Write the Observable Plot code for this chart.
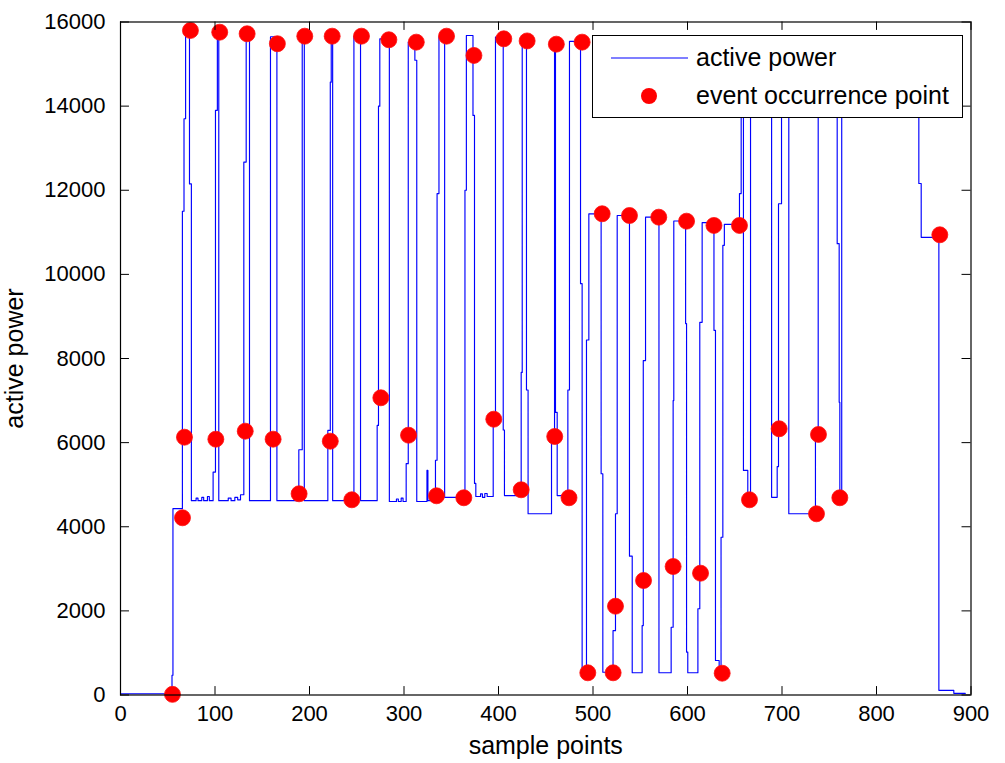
<!DOCTYPE html>
<html><head><meta charset="utf-8">
<script src="https://cdn.jsdelivr.net/npm/d3@7"></script>
<script src="https://cdn.jsdelivr.net/npm/@observablehq/plot@0.6"></script>
<style>
html,body{margin:0;padding:0;background:#fff;}
#wrap{position:relative;width:1005px;height:763px;font-family:"Liberation Sans",Arial,sans-serif;}
#legend{position:absolute;left:592px;top:35px;width:371px;height:83px;box-sizing:border-box;border:1px solid #000;background:#fff;}
#legend svg{position:absolute;left:0;top:0;}
</style></head><body><div id="wrap"></div>
<script>
// active power: level changes (sample point, value), drawn as a step line
const powerSteps = [
  [0,30],[54.5,470],[55.5,4430],[65.5,11500],[67.2,13700],[68.9,15850],[73,12150],[75,4620],
  [80,4680],[82,4620],[86,4700],[88,4620],[92,4720],[94,4620],
  [98,5300],[100.5,13900],[102.5,15780],[104,4620],
  [114,4680],[117,4620],[121,4700],[124,4640],[127,4760],
  [130.5,12670],[133,15700],[136.5,4620],
  [158.7,15650],[165.5,4620],
  [188.7,5830],[192.3,15680],[194.5,4620],
  [219.4,6290],[222,14570],[223,15680],[224.5,4620],
  [247,15660],[254,4620],
  [271.6,6410],[273,14000],[274.4,15600],[284.5,4600],
  [292,4660],[294,4600],[297,4680],[299,4600],
  [302.3,5500],[304.5,15520],[311.5,15090],[313.5,4600],
  [324.3,5340],[325.3,4620],
  [333.3,5580],[335,11920],[337,15640],[343,4700],
  [364.5,12000],[366,15680],[373,13780],[374.6,5030],[376,4720],
  [381,4780],[383,4700],[385.5,4790],[388,4720],
  [394.4,6700],[396.8,15640],[405,6300],[406.3,4740],
  [424,7670],[425.1,15600],[429.6,7250],[431.3,4310],
  [456.1,6140],[459.3,15500],[460.3,6720],[462.1,4740],
  [473.4,7250],[475.1,15540],[486.8,9780],[488.5,580],
  [493.1,8440],[495.6,11440],[508.6,5260],[510.4,540],
  [521.2,1530],[523.8,4310],[525.6,11400],[538.6,3300],[541.5,530],
  [552,1650],[553.2,7950],[555.6,11360],[569.8,530],
  [582.7,1610],[584.8,7000],[585.5,11270],[598,8830],[599,1020],[600.3,530],
  [611,2050],[613,8860],[615.5,11230],[628,8670],[629.6,820],[633.5,530],
  [635.5,3750],[637.4,10690],[639,11190],
  [655,11920],[656.8,15400],[659.2,5340],[663.8,4660],
  [666.7,15400],[689,4700],
  [694.9,5430],[696.3,11680],[699.5,15400],[707.2,4310],
  [735.4,6300],[738.3,15400],[758.4,10730],[760.5,6960],[761.2,4710],
  [763.2,15400],[844.8,12160],[847.3,10880],[866,110],[881.8,40],[894,40]
];

// event occurrence points
const eventPoints = [
  [55,15],[65.6,4213],[67.7,6129],[74,15799],[100.9,6082],[105,15758],[132,6272],[134,15720],
  [161.5,6082],[166,15483],[189,4784],[195,15663],[222,6034],[224,15663],[244.8,4641],[255,15663],
  [275.5,7066],[284,15578],[304.8,6177],[313,15521],[334.4,4736],[345,15663],[363.3,4689],[374,15205],
  [395,6557],[405.6,15600],[424,4879],[430.3,15550],[459.5,6146],[461.2,15473],[474.6,4689],[488.5,15521],
  [494.5,528],[509.7,11441],[521.3,528],[523.8,2111],[538.6,11400],[553.5,2722],[569.6,11360],
  [584.8,3055],[599,11265],[613.8,2896],[628,11163],[636.7,518],[655,11163],
  [665.6,4641],[697,6329],[736.5,4308],[738.6,6194],[761.2,4689],[867,10941]
];

const xTicks = [0,100,200,300,400,500,600,700,800,900];
const yTicks = [0,2000,4000,6000,8000,10000,12000,14000,16000];
const xLabel = "sample points";
const yLabel = "active power";
const legendLabels = ["active power", "event occurrence point"];

const fmt = d3.format("d");
const chart = Plot.plot({
  width: 1005, height: 763,
  marginLeft: 120, marginRight: 34.5, marginTop: 21.5, marginBottom: 68.5,
  style: {fontFamily: "'Liberation Sans', Arial, sans-serif", fontSize: "22px", background: "#fff", color: "#000", overflow: "visible"},
  x: {domain: [0, 900]},
  y: {domain: [0, 16000]},
  marks: [
    Plot.line(powerSteps, {x: d => d[0], y: d => d[1], curve: "step-after", stroke: "#0000ff", strokeWidth: 1.15}),
    Plot.dot(eventPoints, {x: d => d[0], y: d => d[1], r: 8, fill: "#ff0000", stroke: "#ff1010", strokeWidth: 0.8}),
    Plot.axisX({ticks: xTicks, tickFormat: fmt, tickSize: 0, tickPadding: 10, label: null, fontSize: 22}),
    Plot.axisY({ticks: yTicks, tickFormat: fmt, tickSize: 0, tickPadding: 15, label: null, fontSize: 22}),
    Plot.ruleX(xTicks, {x: d => d, y1: 0, y2: 200, stroke: "black"}),
    Plot.ruleX(xTicks, {x: d => d, y1: 15800, y2: 16000, stroke: "black"}),
    Plot.ruleY(yTicks, {y: d => d, x1: 0, x2: 9.5, stroke: "black"}),
    Plot.ruleY(yTicks, {y: d => d, x1: 890.5, x2: 900, stroke: "black"}),
    Plot.frame({stroke: "black", strokeWidth: 1.2}),
    Plot.text([xLabel], {text: d => d, frameAnchor: "bottom", textAnchor: "middle", lineAnchor: "middle", dy: 51, fontSize: 25}),
    Plot.text([yLabel], {text: d => d, frameAnchor: "left", textAnchor: "middle", lineAnchor: "middle", rotate: -90, dx: -106, fontSize: 25})
  ]
});
const wrap = document.getElementById("wrap");
wrap.appendChild(chart);

// legend box
const lg = document.createElement("div");
lg.id = "legend";
lg.innerHTML = `<svg width="371" height="83" font-family="'Liberation Sans', Arial, sans-serif" font-size="25">
  <line x1="18" x2="95" y1="22" y2="22" stroke="#0000ff" stroke-width="1.2"/>
  <text x="103" y="30">${legendLabels[0]}</text>
  <circle cx="56" cy="60" r="8" fill="#ff0000"/>
  <text x="103" y="68">${legendLabels[1]}</text>
</svg>`;
wrap.appendChild(lg);
</script>
</body></html>
